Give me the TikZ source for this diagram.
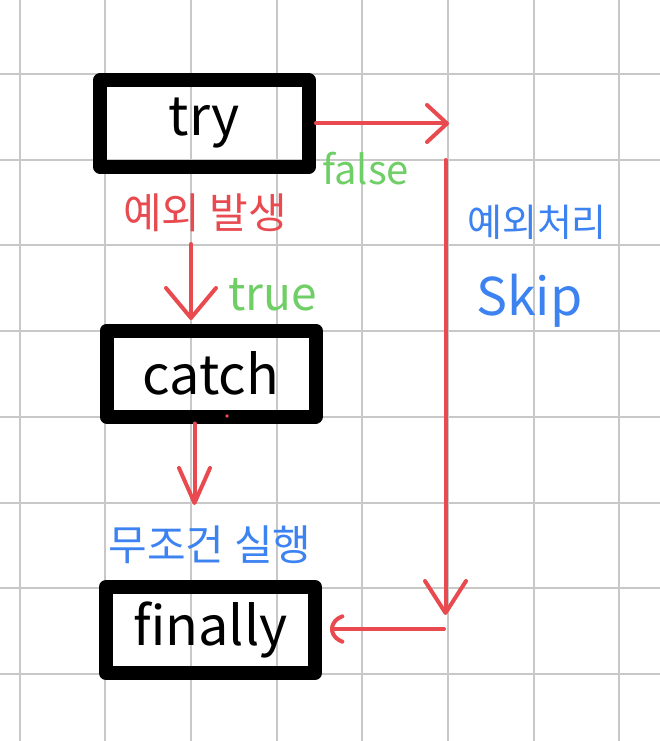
\documentclass[tikz,border=0pt]{standalone}
\usepackage{fontspec}
\setmainfont{Noto Sans CJK KR}
\usetikzlibrary{arrows.meta}
\definecolor{penred}{HTML}{E84A4F}
\definecolor{pengreen}{HTML}{6FCF66}
\definecolor{penblue}{HTML}{3C82F0}
\definecolor{gridgray}{HTML}{C8C8C8}
\begin{document}
\begin{tikzpicture}[x=1pt,y=-1pt,
  gridline/.style={draw=gridgray,line width=2pt},
  box/.style={draw=black,line width=14pt,line join=round,minimum width=209pt,
    minimum height=86pt,inner sep=0pt,font=\fontsize{54}{60}\selectfont},
  conn/.style={draw=penred,line width=4pt,line cap=round},
  redtxt/.style={text=penred,inner sep=0pt},
  greentxt/.style={text=pengreen,inner sep=0pt},
  bluetxt/.style={text=penblue,inner sep=0pt}]
\useasboundingbox (0,0) rectangle (660,741);
\fill[white] (0,0) rectangle (660,741);
% grid
\foreach \i in {0,...,7} \draw[gridline] ({19.5+85.7*\i},0) -- ++(0,741);
\foreach \j in {-1,...,7} \draw[gridline] (0,{74+85.7*\j}) -- ++(660,0);
% boxes
\node[box] (try) at (204.5,123.5) {try};
\node[box] (catch) at (211,373.5) {catch};
\node[box] (finally) at (210.5,630) {finally};
% coordinates
\coordinate (rtip) at (449,123.5);
\coordinate (vtop) at (445.5,160);
\coordinate (vbot) at (445.5,615);
\coordinate (hstart) at (444,629);
\coordinate (htip) at (330,629);
\coordinate (lstart) at (191,244);
\coordinate (ltip) at (191,320);
\coordinate (ctip) at (194.5,505);
% connectors
\draw[conn,-{Straight Barb[length=20pt,width=37pt,round]}] (try.east) -- (rtip);
\draw[conn,-{Straight Barb[length=32pt,width=41pt,round]}] (vtop) -- (vbot);
\draw[conn,-{Arc Barb[arc=130,length=20pt,width=32pt,round]}] (hstart) -- (htip);
\draw[conn,-{Straight Barb[length=30pt,width=50pt,round]}] (lstart) -- (ltip);
\draw[conn,-{Straight Barb[length=35pt,width=31pt,round]}] (catch.south -| ctip) -- (ctip);
\fill[penred] (227,416) circle (1.8);
% labels
\node[redtxt,font=\fontsize{42}{46}\selectfont] (occur) at (205,213) {예외 발생};
\node[greentxt,font=\fontsize{40}{44}\selectfont,anchor=base west] (false) at (322,184) {false};
\node[greentxt,font=\fontsize{46}{50}\selectfont,anchor=base west] (true) at (228,310) {true};
\node[bluetxt,font=\fontsize{38}{42}\selectfont] (handle) at (537,222) {예외처리};
\node[bluetxt,font=\fontsize{52}{56}\selectfont,anchor=base west] (skip) at (476,315) {Skip};
\node[bluetxt,font=\fontsize{42}{46}\selectfont] (always) at (210,545) {무조건 실행};
\end{tikzpicture}
\end{document}
